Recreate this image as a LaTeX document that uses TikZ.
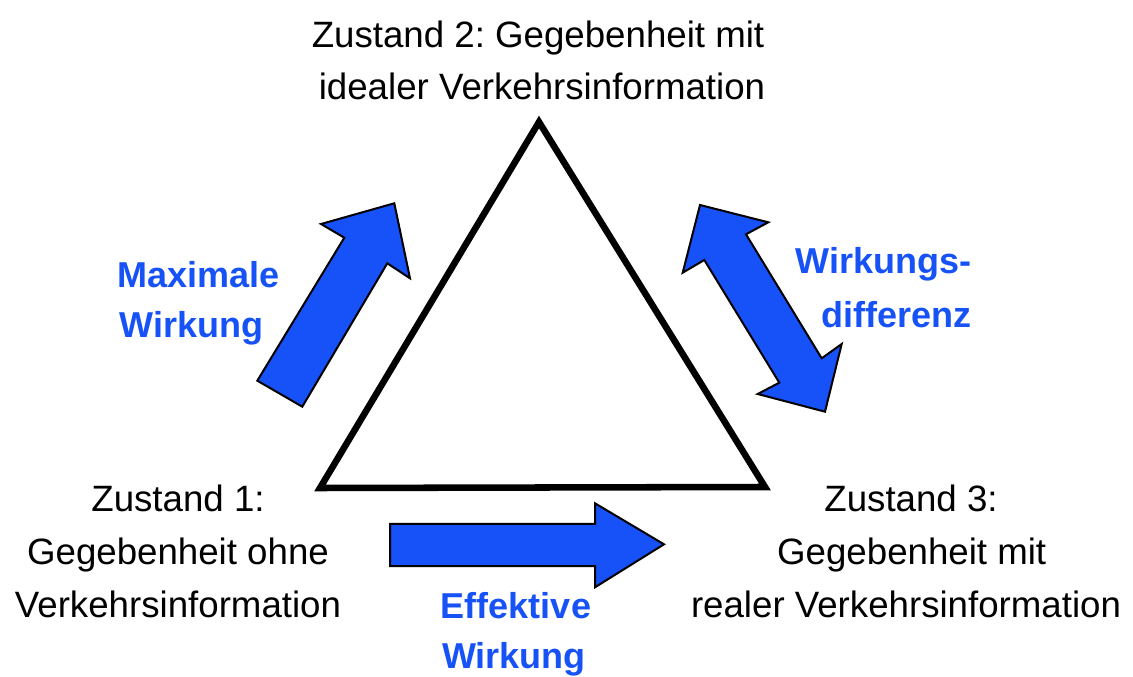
\documentclass[tikz,border=0pt]{standalone}
\usepackage{fontspec}
\setmainfont{Liberation Sans}
\frenchspacing
\definecolor{arrowblue}{RGB}{22,82,248}
\definecolor{textblue}{RGB}{22,82,245}
\tikzset{
  lbl/.style={font=\fontsize{27.5}{33}\selectfont, inner sep=0pt, anchor=base},
  blbl/.style={font=\fontsize{27}{33}\selectfont\bfseries, text=textblue, inner sep=0pt, anchor=base},
  bigarrow/.style={draw=black, line width=1.5pt, fill=arrowblue, line join=miter},
  tri/.style={draw=black, line width=4.9pt, line join=miter}
}
\begin{document}
\begin{tikzpicture}[x=0.75pt,y=-0.75pt]
\useasboundingbox (0,0) rectangle (1133,677);
% triangle
\coordinate (apex) at (539,122);
\coordinate (bl) at (320,488);
\coordinate (br) at (765,487);
\draw[tri] (apex) -- (br) -- (bl) -- cycle;
% left arrow (Maximale Wirkung)
\draw[bigarrow] (257.3,380.7) -- (302.3,406.7) -- (387.3,263.3) -- (410,278.3)
  -- (394.3,203.3) -- (321,224) -- (344.3,237.7) -- cycle;
% right double arrow (Wirkungsdifferenz)
\draw[bigarrow] (700,205) -- (768.3,222.3) -- (746,234.3) -- (821.7,358.3)
  -- (841.7,344) -- (825,411.7) -- (757.7,394) -- (779.3,382.7)
  -- (704.3,260) -- (682.7,272.7) -- cycle;
% bottom arrow (Effektive Wirkung)
\draw[bigarrow] (390,524) -- (595,524) -- (595,503.3) -- (664,544.3)
  -- (595,587.3) -- (595,566) -- (390,566) -- cycle;
% labels
\node[lbl] (z2a) at (538,47.5) {Zustand 2: Gegebenheit mit};
\node[lbl] (z2b) at (542,99.5) {idealer Verkehrsinformation};
\node[lbl] (z1a) at (178,512) {Zustand 1:};
\node[lbl] (z1b) at (178,564.5) {Gegebenheit ohne};
\node[lbl] (z1c) at (178,617) {Verkehrsinformation};
\node[lbl] (z3a) at (911,512) {Zustand 3:};
\node[lbl] (z3b) at (911.7,564.5) {Gegebenheit mit};
\node[lbl] (z3c) at (906,617) {realer Verkehrsinformation};
\node[blbl] (mw1) at (198.3,288) {Maximale};
\node[blbl] (mw2) at (191.7,338) {Wirkung};
\node[blbl] (wd1) at (883.7,274) {Wirkungs-};
\node[blbl] (wd2) at (896.7,327.5) {differenz};
\node[blbl] (ew1) at (516,618) {Effektive};
\node[blbl] (ew2) at (514,668) {Wirkung};
\end{tikzpicture}
\end{document}
